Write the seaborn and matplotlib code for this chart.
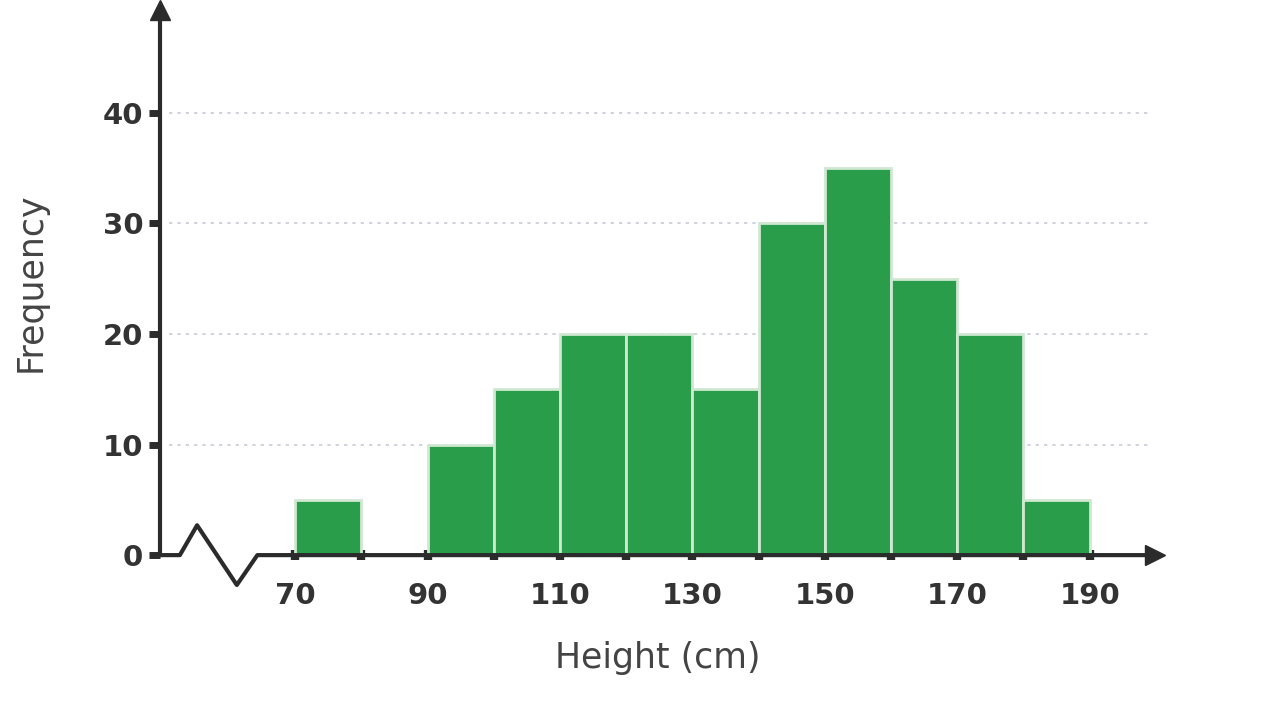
import numpy as np
import matplotlib
matplotlib.use("Agg")
import matplotlib.pyplot as plt
import seaborn as sns

bin_edges = [70, 80, 90, 100, 110, 120, 130, 140, 150, 160, 170, 180, 190]
frequencies = [5, 0, 10, 15, 20, 20, 15, 30, 35, 25, 20, 5]
x_labels = [70, 90, 110, 130, 150, 170, 190]
y_ticks = [0, 10, 20, 30, 40]

sns.set_style("white")
plt.rcParams['font.family'] = ['DejaVu Sans']

centers = [(a + b) / 2 for a, b in zip(bin_edges[:-1], bin_edges[1:])]

fig = plt.figure(figsize=(12.8, 7.2), dpi=100)
ax = fig.add_axes([0.125, 0.229, 0.777, 0.757])
sns.histplot(x=centers, weights=frequencies, bins=bin_edges, ax=ax,
             color="#2a9d4a", edgecolor="#cfe8d2", linewidth=2, alpha=1)

dark = "#2b2b2b"
ax.set_xlim(49.6, 199.8)
ax.set_ylim(0, 49.3)
for s in ["top", "right", "bottom"]:
    ax.spines[s].set_visible(False)
ax.spines["left"].set_color(dark)
ax.spines["left"].set_linewidth(3)

# grid
for y in y_ticks[1:]:
    ax.plot([51, 199], [y, y], color="#c8cbd8", lw=1.2, ls=(0, (2, 3)), zorder=0)

# x axis with break
ax.plot([49.6, 52.6, 55.2, 61.2, 64.3, 198.5], [0, 0, 2.7, -2.7, 0, 0],
        color=dark, lw=3, clip_on=False, zorder=5)
ax.plot([199.8], [0], marker=">", color=dark, ms=14, clip_on=False, zorder=5)
ax.plot([49.6], [49.3], marker="^", color=dark, ms=14, clip_on=False, zorder=5)

ax.set_xticks(bin_edges)
ax.set_xticklabels([str(v) if v in x_labels else "" for v in bin_edges])
ax.set_yticks(y_ticks)
ax.tick_params(axis="x", bottom=True, length=7, width=6, color=dark, pad=16,
               direction="inout", labelsize=21, labelcolor="#333333")
ax.tick_params(axis="y", left=True, length=8, width=5, color=dark, pad=4,
               labelsize=21, labelcolor="#333333")
for lab in ax.get_xticklabels() + ax.get_yticklabels():
    lab.set_fontweight("bold")

ax.set_xlabel("Height (cm)", fontsize=25, color="#444444", labelpad=22)
ax.set_ylabel("Frequency", fontsize=25, color="#444444", labelpad=40)

fig.savefig("out.png", dpi=100)
